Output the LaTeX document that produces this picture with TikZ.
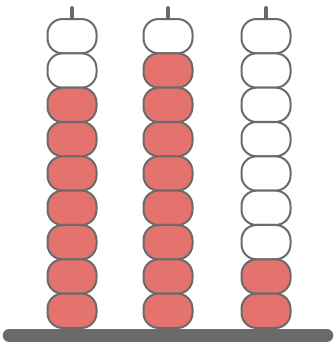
\documentclass[tikz,border=0pt]{standalone}
\definecolor{beadred}{HTML}{E4736D}
\definecolor{rodgray}{HTML}{6A6A6A}
\begin{document}
\begin{tikzpicture}[x=1pt,y=-1pt,
  bead/.style={draw=rodgray,line width=2pt,rounded corners=15pt,minimum width=49pt,minimum height=34.3pt,inner sep=0pt,outer sep=0pt},
  redbead/.style={bead,fill=beadred},
  whitebead/.style={bead,fill=white},
  rod/.style={draw=rodgray,line width=4pt,line cap=round},
  base/.style={draw=rodgray,line width=12.5pt,line cap=round}]
\useasboundingbox (0,0) rectangle (335,344);
% columns: center x, number of white beads on top
\foreach \c/\x/\w in {1/72/2,2/168/1,3/266/7}{
  \coordinate (top\c) at (\x,8);
  \foreach \i in {1,...,9}{
    \pgfmathtruncatemacro{\isw}{\i<=\w ? 1 : 0}
    \ifnum\isw=1
      \node[whitebead] (b\c-\i) at (\x,{19+34.33*(\i-0.5)}) {};
    \else
      \node[redbead] (b\c-\i) at (\x,{19+34.33*(\i-0.5)}) {};
    \fi
  }
  \draw[rod] (b\c-1.north) ++(0,-1) -- (top\c);
}
\coordinate (baseL) at (9,335.5);
\coordinate (baseR) at (327,335.5);
\draw[base] (baseL) -- (baseR);
\end{tikzpicture}
\end{document}
